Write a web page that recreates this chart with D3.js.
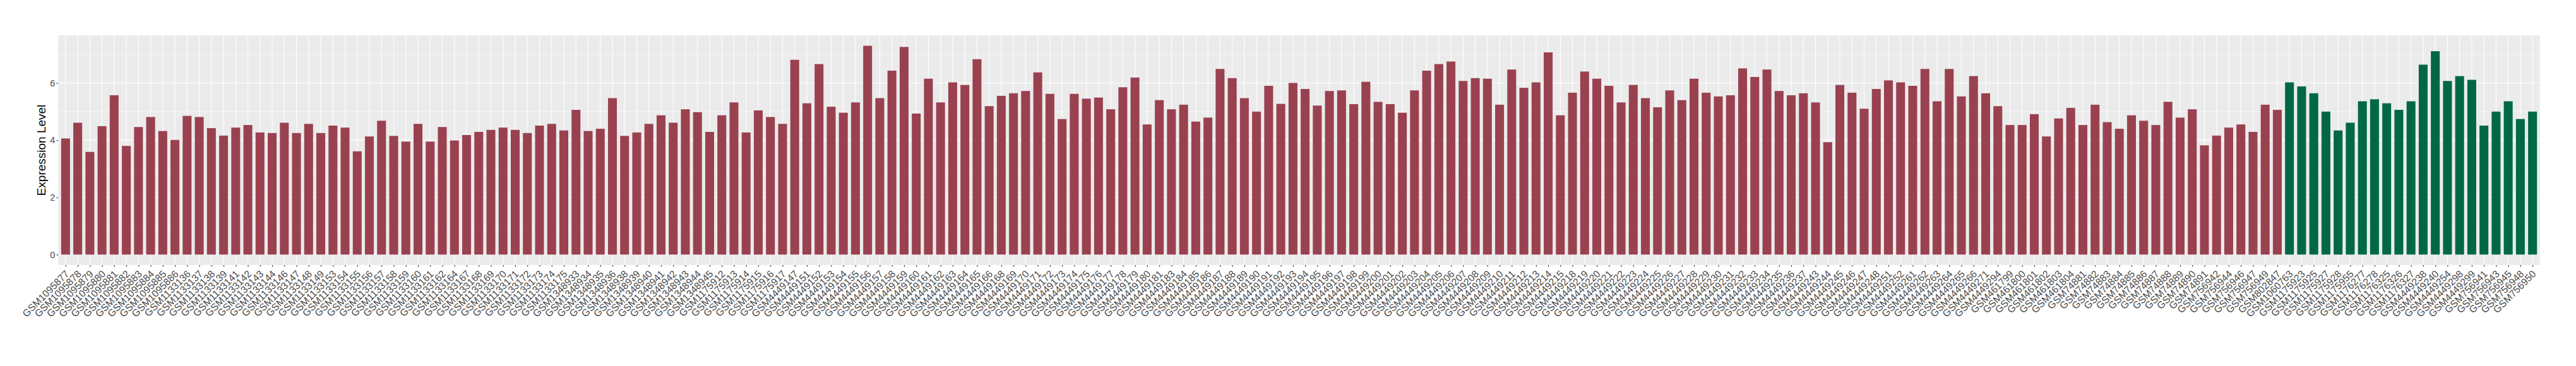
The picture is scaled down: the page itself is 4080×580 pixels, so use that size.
<!DOCTYPE html>
<html><head><meta charset="utf-8">
<script src="https://cdn.jsdelivr.net/npm/d3@7"></script>
<style>body{margin:0;background:#fff}</style>
</head><body><svg id="chart" width="4080" height="580"></svg>
<script>
const categories = [
"GSM1095877","GSM1095878","GSM1095879","GSM1095880","GSM1095881","GSM1095882","GSM1095883","GSM1095884","GSM1095885","GSM1095886",
"GSM1133136","GSM1133137","GSM1133138","GSM1133139","GSM1133141","GSM1133142","GSM1133143","GSM1133144","GSM1133146","GSM1133147",
"GSM1133148","GSM1133149","GSM1133153","GSM1133154","GSM1133155","GSM1133156","GSM1133157","GSM1133158","GSM1133159","GSM1133160",
"GSM1133161","GSM1133162","GSM1133164","GSM1133167","GSM1133168","GSM1133169","GSM1133170","GSM1133171","GSM1133172","GSM1133173",
"GSM1133174","GSM1133175","GSM1348933","GSM1348934","GSM1348935","GSM1348936","GSM1348938","GSM1348939","GSM1348940","GSM1348941",
"GSM1348942","GSM1348943","GSM1348944","GSM1348945","GSM1175912","GSM1175913","GSM1175914","GSM1175915","GSM1175916","GSM1175917",
"GSM4449147","GSM4449151","GSM4449152","GSM4449153","GSM4449154","GSM4449155","GSM4449156","GSM4449157","GSM4449158","GSM4449159",
"GSM4449160","GSM4449161","GSM4449162","GSM4449163","GSM4449164","GSM4449165","GSM4449166","GSM4449168","GSM4449169","GSM4449170",
"GSM4449171","GSM4449172","GSM4449173","GSM4449174","GSM4449175","GSM4449176","GSM4449177","GSM4449178","GSM4449179","GSM4449180",
"GSM4449181","GSM4449183","GSM4449184","GSM4449185","GSM4449186","GSM4449187","GSM4449188","GSM4449189","GSM4449190","GSM4449191",
"GSM4449192","GSM4449193","GSM4449194","GSM4449195","GSM4449196","GSM4449197","GSM4449198","GSM4449199","GSM4449200","GSM4449201",
"GSM4449202","GSM4449203","GSM4449204","GSM4449205","GSM4449206","GSM4449207","GSM4449208","GSM4449209","GSM4449210","GSM4449211",
"GSM4449212","GSM4449213","GSM4449214","GSM4449215","GSM4449218","GSM4449219","GSM4449220","GSM4449221","GSM4449222","GSM4449223",
"GSM4449224","GSM4449225","GSM4449226","GSM4449227","GSM4449228","GSM4449229","GSM4449230","GSM4449231","GSM4449232","GSM4449233",
"GSM4449234","GSM4449235","GSM4449236","GSM4449237","GSM4449243","GSM4449244","GSM4449245","GSM4449246","GSM4449247","GSM4449248",
"GSM4449251","GSM4449252","GSM4449261","GSM4449262","GSM4449263","GSM4449264","GSM4449265","GSM4449266","GSM4449271","GSM4449294",
"GSM461799","GSM461800","GSM461801","GSM461802","GSM461803","GSM461804","GSM74881","GSM74882","GSM74883","GSM74884",
"GSM74885","GSM74886","GSM74887","GSM74888","GSM74889","GSM74890","GSM74891","GSM756942","GSM756944","GSM756946",
"GSM756947","GSM756949","GSM802847","GSM1060763","GSM1175923","GSM1175925","GSM1175927","GSM1175928","GSM1175955","GSM1176277",
"GSM1176278","GSM1176325","GSM1176326","GSM1176327","GSM4449238","GSM4449240","GSM4449254","GSM4449298","GSM4449299","GSM756941",
"GSM756943","GSM756945","GSM756948","GSM756950"
];
const values = [
4.06,4.61,3.59,4.49,5.57,3.80,4.46,4.81,4.32,4.01,
4.85,4.81,4.42,4.16,4.44,4.53,4.27,4.25,4.61,4.25,
4.57,4.25,4.51,4.44,3.61,4.13,4.68,4.15,3.95,4.57,
3.95,4.46,3.99,4.18,4.29,4.36,4.44,4.36,4.25,4.51,
4.57,4.34,5.06,4.32,4.40,5.47,4.15,4.27,4.57,4.87,
4.61,5.08,4.98,4.29,4.87,5.32,4.27,5.04,4.81,4.57,
6.81,5.29,6.66,5.17,4.96,5.32,7.30,5.47,6.43,7.26,
4.93,6.15,5.32,6.02,5.93,6.83,5.19,5.55,5.64,5.72,
6.37,5.62,4.74,5.62,5.45,5.49,5.08,5.85,6.19,4.55,
5.40,5.08,5.24,4.65,4.79,6.49,6.17,5.47,5.00,5.90,
5.27,6.00,5.79,5.21,5.72,5.74,5.26,6.04,5.34,5.26,
4.96,5.74,6.43,6.66,6.75,6.07,6.17,6.15,5.24,6.47,
5.83,6.02,7.07,4.87,5.66,6.40,6.15,5.90,5.32,5.93,
5.47,5.15,5.74,5.40,6.15,5.66,5.53,5.57,6.51,6.21,
6.47,5.72,5.57,5.64,5.32,3.93,5.93,5.66,5.10,5.79,
6.09,6.02,5.90,6.49,5.36,6.49,5.53,6.24,5.64,5.19,
4.53,4.53,4.91,4.13,4.76,5.13,4.53,5.24,4.63,4.40,
4.87,4.68,4.53,5.34,4.79,5.08,3.82,4.16,4.44,4.55,
4.29,5.24,5.06,6.02,5.88,5.64,5.00,4.34,4.61,5.36,
5.43,5.29,5.06,5.36,6.64,7.11,6.07,6.24,6.11,4.51,
5.00,5.36,4.74,5.00
];
const greenSamples = [
"GSM1060763","GSM1175923","GSM1175925","GSM1175927","GSM1175928","GSM1175955","GSM1176277",
"GSM1176278","GSM1176325","GSM1176326","GSM1176327","GSM4449238","GSM4449240","GSM4449254",
"GSM4449298","GSM4449299","GSM756941","GSM756943","GSM756945","GSM756948","GSM756950"
];
const yTicks = [0, 2, 4, 6];
const yMinorTicks = [1, 3, 5, 7];
const yTitle = "Expression Level";

const colorRed = "#9A4150", colorGreen = "#006847";
const panel = {left: 92.3, right: 4022.7, top: 56, bottom: 420};
const font = "'Liberation Sans', Arial, Helvetica, sans-serif";

const svg = d3.select("#chart");
const data = categories.map((c, i) => ({c, v: values[i], g: greenSamples.includes(c)}));

const x = d3.scalePoint().domain(categories).range([panel.left, panel.right]).padding(0.6);
const maxV = d3.max(values);
const y = d3.scaleLinear().domain([-0.05 * maxV, 1.05 * maxV]).range([panel.bottom, panel.top]);
const bw = x.step() * 0.73;

svg.append("rect").attr("x", panel.left).attr("y", panel.top)
  .attr("width", panel.right - panel.left).attr("height", panel.bottom - panel.top)
  .attr("fill", "#EBEBEB");

svg.append("g").selectAll("line").data(yMinorTicks).join("line")
  .attr("x1", panel.left).attr("x2", panel.right)
  .attr("y1", d => y(d)).attr("y2", d => y(d))
  .attr("stroke", "#fff").attr("stroke-width", 0.6);
svg.append("g").selectAll("line").data(yTicks).join("line")
  .attr("x1", panel.left).attr("x2", panel.right)
  .attr("y1", d => y(d)).attr("y2", d => y(d))
  .attr("stroke", "#fff").attr("stroke-width", 1.1);
svg.append("g").selectAll("line").data(categories).join("line")
  .attr("x1", d => x(d)).attr("x2", d => x(d))
  .attr("y1", panel.top).attr("y2", panel.bottom)
  .attr("stroke", "#fff").attr("stroke-width", 1.1);

svg.append("g").selectAll("rect").data(data).join("rect")
  .attr("x", d => x(d.c) - bw / 2).attr("width", bw)
  .attr("y", d => y(d.v)).attr("height", d => y(0) - y(d.v))
  .attr("fill", d => d.g ? colorGreen : colorRed);

const yAxis = svg.append("g").attr("transform", `translate(${panel.left},0)`)
  .call(d3.axisLeft(y).tickValues(yTicks).tickSize(2.75).tickPadding(2.2).tickFormat(d3.format("d")));
yAxis.select(".domain").remove();
yAxis.selectAll("line").attr("stroke", "#333333").attr("stroke-width", 1.1);
yAxis.selectAll("text").attr("fill", "#4D4D4D").style("font-family", font).style("font-size", "14.5px");

const xAxis = svg.append("g").attr("transform", `translate(0,${panel.bottom})`)
  .call(d3.axisBottom(x).tickSize(2.75).tickPadding(0));
xAxis.select(".domain").remove();
xAxis.selectAll("line").attr("stroke", "#333333").attr("stroke-width", 1.1);
xAxis.selectAll("text")
  .attr("fill", "#4D4D4D").style("font-family", font).style("font-size", "15.7px")
  .attr("text-anchor", "end").attr("dy", null).attr("y", null)
  .attr("transform", "translate(6,15) rotate(-45)");

svg.append("text").text(yTitle)
  .attr("transform", `translate(65,${(panel.top + panel.bottom) / 2}) rotate(-90)`)
  .attr("text-anchor", "middle").attr("dy", "0.35em")
  .style("font-family", font).style("font-size", "19px").attr("fill", "#000");
</script></body></html>
